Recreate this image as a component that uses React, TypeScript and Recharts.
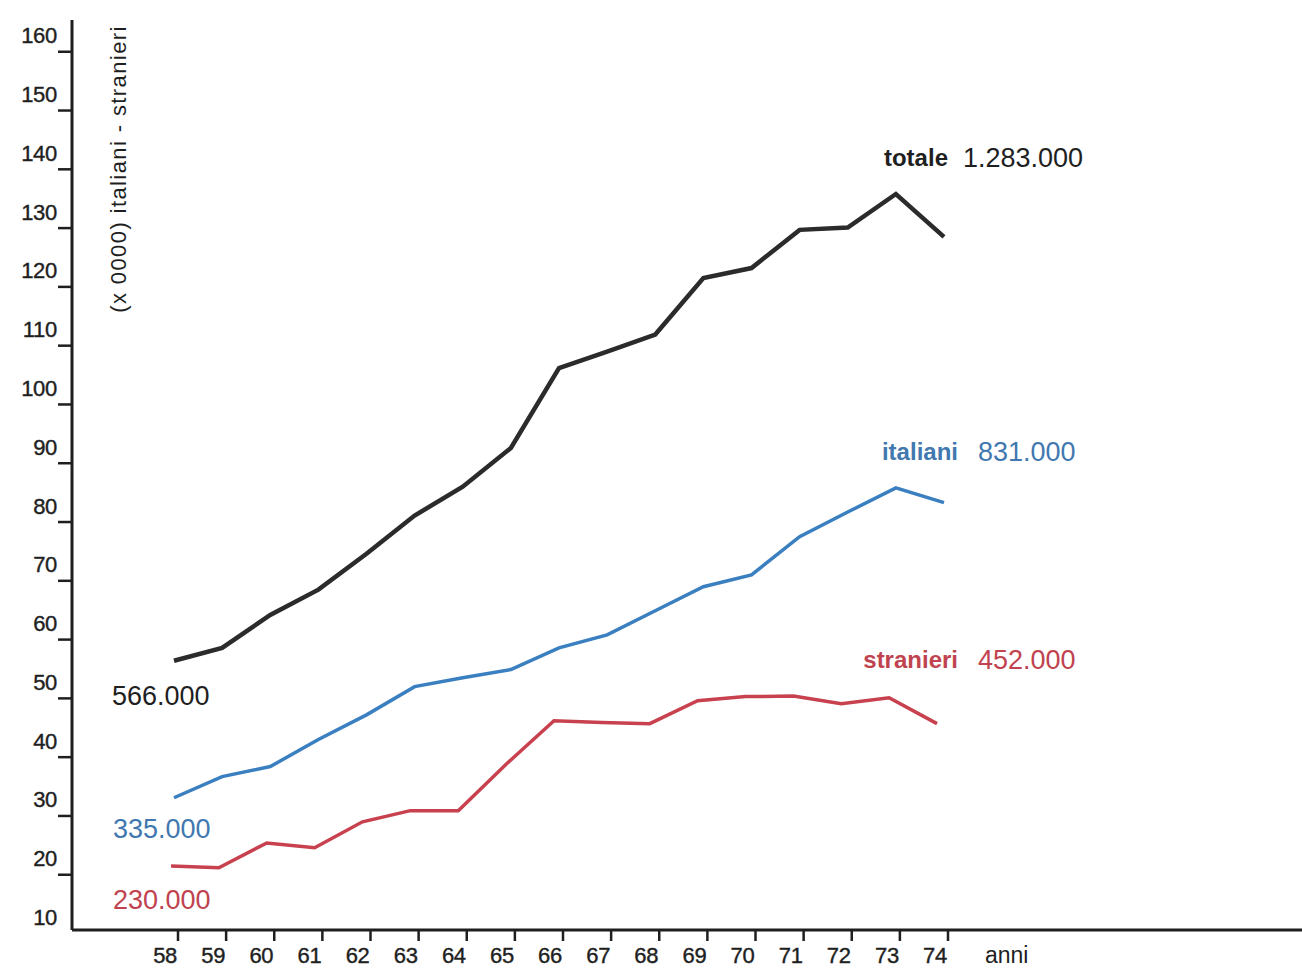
import { LineChart, Line, XAxis, YAxis, LabelList } from "recharts";

const years = [58, 59, 60, 61, 62, 63, 64, 65, 66, 67, 68, 69, 70, 71, 72, 73, 74];
const totale = [56.4, 58.6, 64.2, 68.5, 74.6, 81.1, 86.0, 92.6, 106.2, 109.0, 111.9, 121.5, 123.2, 129.7, 130.1, 135.8, 128.5];
const italiani = [33.1, 36.7, 38.4, 43.0, 47.2, 52.0, 53.5, 54.9, 58.6, 60.8, 64.9, 69.0, 71.0, 77.5, 81.7, 85.8, 83.3];
const stranieri = [21.5, 21.2, 25.4, 24.6, 29.0, 30.9, 30.9, 38.8, 46.2, 45.9, 45.7, 49.6, 50.3, 50.4, 49.1, 50.1, 45.7];
const yTicks = [10, 20, 30, 40, 50, 60, 70, 80, 90, 100, 110, 120, 130, 140, 150, 160];

const seriesNames = ["totale", "italiani", "stranieri"];
const startTexts = ["566.000", "335.000", "230.000"];
const endTexts = ["1.283.000", "831.000", "452.000"];

const data = years.map((year, i) => ({
  year,
  totale: totale[i],
  italiani: italiani[i],
  stranieri: stranieri[i],
}));

const FONT = "'Liberation Sans', Arial, sans-serif";
const INK = "#1f1f1f";
const BLACK = "#2b2b2b";
const BLUE = "#3a7fc0";
const BLUE_TXT = "#4178b0";
const RED = "#c8414e";
const RED_TXT = "#c0434f";

function YTick({ x, y, payload }: any) {
  return (
    <g>
      {payload.value !== 10 && (
        <line x1={x - 14} x2={x} y1={y} y2={y} stroke={INK} strokeWidth={2.5} />
      )}
      <text x={x - 15} y={y - 16} textAnchor="end" dominantBaseline="central"
        fontFamily={FONT} fontSize={22} letterSpacing={-0.3} fill={INK} stroke={INK} strokeWidth={0.4}>
        {payload.value}
      </text>
    </g>
  );
}

function XTick({ x, y, payload }: any) {
  const tx = x + 4;
  return (
    <g>
      <line x1={tx} x2={tx} y1={y} y2={y + 11} stroke={INK} strokeWidth={2.5} />
      <text x={tx - 1} y={y + 25} textAnchor="end" dominantBaseline="central"
        fontFamily={FONT} fontSize={22} letterSpacing={-0.3} fill={INK} stroke={INK} strokeWidth={0.4}>
        {payload.value}
      </text>
    </g>
  );
}

function AnniLabel({ viewBox }: any) {
  return (
    <text x={viewBox.x + 913} y={viewBox.y + 25} dominantBaseline="central"
      fontFamily={FONT} fontSize={23} fill={INK}>anni</text>
  );
}

function UnitLabel() {
  return (
    <text x={0} y={0} transform="translate(118,169) rotate(-90)" textAnchor="middle"
      dominantBaseline="central" fontFamily={FONT} fontSize={22} letterSpacing={1.4} fill={INK}>
      (x 0000) italiani - stranieri
    </text>
  );
}

// offsets of the start / end captions relative to the first and last points
const captionPos = [
  { sx: -62, sy: 35, nx: 4, gap: 15, ny: -79, color: INK },
  { sx: -61, sy: 31, nx: 14, gap: 20, ny: -51, color: BLUE_TXT },
  { sx: -58, sy: 34, nx: 21, gap: 20, ny: -64, color: RED_TXT },
];

function makeCaption(k: number) {
  return (props: any) => {
    const { x, y, index } = props;
    const p = captionPos[k];
    if (index === 0) {
      return (
        <text x={x + p.sx} y={y + p.sy} dominantBaseline="central"
          fontFamily={FONT} fontSize={27} fill={p.color}>
          {startTexts[k]}
        </text>
      );
    }
    if (index === years.length - 1) {
      return (
        <g>
          <text x={x + p.nx} y={y + p.ny} textAnchor="end" dominantBaseline="central"
            fontFamily={FONT} fontSize={24} fontWeight="bold" fill={p.color}>
            {seriesNames[k]}
          </text>
          <text x={x + p.nx + p.gap} y={y + p.ny} dominantBaseline="central"
            fontFamily={FONT} fontSize={27} fill={p.color}>
            {endTexts[k]}
          </text>
        </g>
      );
    }
    return null;
  };
}

export default function App() {
  return (
    <div style={{ position: "absolute", left: 0, top: 0, width: 1302, height: 969, background: "#fff" }}>
      <LineChart width={1302} height={969} data={data} margin={{ top: 20, right: 0, bottom: 0, left: 0 }}>
        <XAxis
          dataKey="year" type="number" domain={[55.8805, 81.439]} ticks={years} interval={0}
          height={39} tickSize={0} tickMargin={0} tickLine={false}
          axisLine={{ stroke: INK, strokeWidth: 3 }} tick={<XTick />} label={<AnniLabel />}
        />
        <XAxis xAxisId="red" dataKey="year" type="number" domain={[55.932, 81.624]} hide />
        <YAxis
          type="number" domain={[10.6, 165.4]} ticks={yTicks} interval={0} width={72}
          tickSize={0} tickMargin={0} tickLine={false}
          axisLine={{ stroke: INK, strokeWidth: 3 }} tick={<YTick />} label={<UnitLabel />}
        />
        <Line type="linear" dataKey="totale" stroke={BLACK} strokeWidth={4.5} dot={false} isAnimationActive={false}>
          <LabelList dataKey="totale" content={makeCaption(0)} />
        </Line>
        <Line type="linear" dataKey="italiani" stroke={BLUE} strokeWidth={3.5} dot={false} isAnimationActive={false}>
          <LabelList dataKey="italiani" content={makeCaption(1)} />
        </Line>
        <Line type="linear" xAxisId="red" dataKey="stranieri" stroke={RED} strokeWidth={3.5} dot={false} isAnimationActive={false}>
          <LabelList dataKey="stranieri" content={makeCaption(2)} />
        </Line>
      </LineChart>
    </div>
  );
}
